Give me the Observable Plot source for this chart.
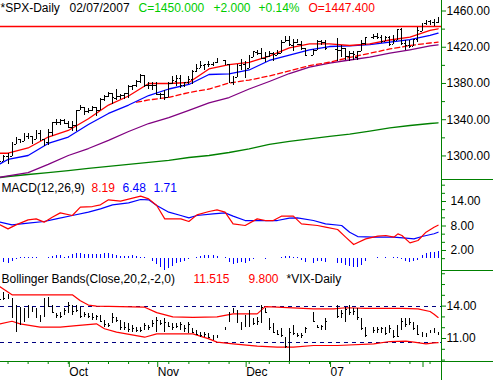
<!DOCTYPE html>
<html><head><meta charset="utf-8">
<script src="https://cdn.jsdelivr.net/npm/d3@7"></script>
<script src="https://cdn.jsdelivr.net/npm/@observablehq/plot@0.6"></script>
<style>
body{margin:0;background:#fff;}
#chart{position:relative;width:493px;height:380px;overflow:hidden;background:#fff;}
#chart svg{position:absolute;left:0;}
</style></head><body><div id="chart"></div>
<script>
// ---------- DATA ----------
const dates = ["2006-09-07","2006-09-08","2006-09-11","2006-09-12","2006-09-13","2006-09-14","2006-09-15","2006-09-18","2006-09-19","2006-09-20","2006-09-21","2006-09-22","2006-09-25","2006-09-26","2006-09-27","2006-09-28","2006-09-29","2006-10-02","2006-10-03","2006-10-04","2006-10-05","2006-10-06","2006-10-09","2006-10-10","2006-10-11","2006-10-12","2006-10-13","2006-10-16","2006-10-17","2006-10-18","2006-10-19","2006-10-20","2006-10-23","2006-10-24","2006-10-25","2006-10-26","2006-10-27","2006-10-30","2006-10-31","2006-11-01","2006-11-02","2006-11-03","2006-11-06","2006-11-07","2006-11-08","2006-11-09","2006-11-10","2006-11-13","2006-11-14","2006-11-15","2006-11-16","2006-11-17","2006-11-20","2006-11-21","2006-11-22","2006-11-24","2006-11-27","2006-11-28","2006-11-29","2006-11-30","2006-12-01","2006-12-04","2006-12-05","2006-12-06","2006-12-07","2006-12-08","2006-12-11","2006-12-12","2006-12-13","2006-12-14","2006-12-15","2006-12-18","2006-12-19","2006-12-20","2006-12-21","2006-12-22","2006-12-26","2006-12-27","2006-12-28","2006-12-29","2007-01-03","2007-01-04","2007-01-05","2007-01-08","2007-01-09","2007-01-10","2007-01-11","2007-01-12","2007-01-16","2007-01-17","2007-01-18","2007-01-19","2007-01-22","2007-01-23","2007-01-24","2007-01-25","2007-01-26","2007-01-29","2007-01-30","2007-01-31","2007-02-01","2007-02-02","2007-02-05","2007-02-06","2007-02-07"];
const spxOpen = [1300.2,1294.0,1298.9,1299.5,1313.0,1318.0,1316.3,1321.2,1321.2,1318.3,1324.9,1318.0,1314.8,1326.4,1336.4,1336.6,1339.2,1335.8,1331.3,1333.8,1349.8,1353.2,1349.6,1350.6,1353.3,1349.9,1362.8,1365.6,1369.1,1363.9,1365.9,1366.9,1368.6,1377.0,1377.4,1382.2,1388.9,1377.9,1377.9,1377.8,1367.4,1367.3,1364.3,1379.8,1382.5,1385.4,1378.3,1380.6,1384.4,1392.9,1396.6,1399.8,1401.2,1400.4,1402.7,1405.9,1400.9,1381.6,1386.1,1399.5,1400.6,1396.7,1409.1,1414.4,1412.9,1407.3,1409.8,1413.0,1411.3,1413.2,1425.5,1427.1,1422.4,1425.5,1423.2,1418.1,1410.8,1416.6,1426.8,1424.7,1418.0,1416.6,1418.3,1409.3,1412.8,1408.7,1414.8,1423.8,1430.7,1431.8,1430.6,1426.4,1430.5,1423.0,1427.9,1440.1,1424.0,1422.0,1420.6,1428.7,1437.9,1445.9,1448.3,1447.0,1447.4];
const spxHigh = [1301.0,1300.1,1302.4,1314.3,1319.9,1318.0,1324.7,1324.9,1322.0,1328.5,1328.2,1318.0,1329.4,1336.6,1340.1,1340.3,1339.9,1338.5,1338.3,1350.2,1355.4,1353.2,1352.7,1354.2,1353.9,1363.8,1366.6,1370.2,1369.1,1372.9,1368.1,1368.7,1377.4,1377.8,1383.6,1389.5,1388.9,1381.2,1381.2,1381.0,1368.4,1371.7,1381.4,1388.2,1388.6,1388.9,1381.0,1387.6,1394.5,1401.4,1403.8,1401.2,1404.4,1403.5,1407.9,1405.9,1400.9,1387.6,1401.1,1406.3,1403.8,1411.2,1415.3,1415.9,1418.3,1414.1,1415.6,1413.8,1416.6,1427.2,1431.6,1431.8,1428.3,1429.0,1426.4,1418.8,1417.9,1427.7,1427.3,1427.0,1429.4,1421.8,1418.3,1414.9,1415.6,1415.0,1427.1,1431.2,1433.9,1435.3,1432.9,1431.6,1431.4,1432.9,1440.1,1440.7,1427.1,1426.9,1428.8,1441.6,1446.6,1449.3,1449.4,1450.2,1453.0];
const spxLow = [1292.1,1294.0,1290.9,1299.5,1312.6,1313.3,1316.3,1318.2,1312.1,1318.3,1315.5,1310.9,1311.6,1321.9,1333.5,1333.8,1335.6,1330.3,1327.1,1327.5,1349.8,1344.9,1346.7,1348.6,1343.2,1349.9,1360.5,1364.5,1356.9,1360.9,1362.1,1362.1,1363.9,1372.4,1376.0,1379.5,1375.9,1373.5,1372.2,1366.7,1362.2,1360.9,1364.3,1379.2,1376.5,1374.7,1375.6,1378.8,1379.1,1392.1,1396.6,1394.6,1397.9,1399.0,1402.3,1399.3,1381.4,1377.8,1386.1,1393.8,1385.9,1396.7,1408.8,1411.1,1406.8,1403.7,1408.6,1404.8,1411.1,1413.0,1425.5,1420.7,1414.9,1423.8,1415.9,1410.3,1410.4,1416.6,1422.1,1416.8,1403.9,1408.4,1405.8,1403.9,1405.4,1405.3,1414.8,1422.1,1428.6,1428.6,1424.2,1425.8,1420.4,1422.9,1427.9,1422.3,1416.9,1418.5,1420.6,1424.8,1437.9,1443.6,1443.8,1443.4,1446.4];
const spxClose = [1294.0,1298.9,1299.5,1313.0,1318.1,1316.3,1321.2,1321.2,1317.6,1325.2,1318.0,1314.8,1326.4,1336.4,1336.6,1338.9,1335.9,1331.3,1334.1,1350.2,1353.2,1349.6,1350.7,1353.4,1349.9,1362.8,1365.6,1369.1,1364.1,1365.8,1366.9,1368.6,1377.0,1377.4,1382.2,1389.1,1377.3,1377.9,1377.9,1367.8,1367.3,1364.3,1379.8,1382.8,1385.7,1378.3,1380.9,1384.4,1393.2,1396.6,1399.8,1401.2,1400.5,1402.8,1406.1,1400.9,1381.4,1386.7,1399.5,1400.6,1396.7,1409.1,1414.8,1412.9,1407.3,1409.8,1413.0,1411.6,1413.5,1425.5,1427.1,1422.5,1425.6,1423.5,1418.3,1410.8,1416.9,1426.8,1424.7,1418.3,1416.6,1418.3,1409.7,1412.8,1412.1,1414.9,1423.8,1430.7,1431.9,1430.6,1426.4,1430.5,1422.9,1427.9,1440.1,1423.9,1422.2,1420.6,1428.8,1438.2,1445.9,1448.4,1447.0,1448.0,1450.0];

// moving averages
const maDates = ["2006-09-07","2006-09-11","2006-09-18","2006-09-25","2006-10-02","2006-10-09","2006-10-16","2006-10-23","2006-10-30","2006-11-06","2006-11-13","2006-11-20","2006-11-27","2006-12-04","2006-12-11","2006-12-18","2006-12-25","2007-01-01","2007-01-08","2007-01-15","2007-01-22","2007-01-29","2007-02-05","2007-02-07"];
const maRed    = [1303.0,1303.0,1308.8,1320.9,1328.1,1341.1,1356.2,1366.2,1380.0,1380.0,1381.1,1396.0,1400.9,1403.2,1410.3,1419.2,1423.8,1423.8,1421.9,1423.8,1428.0,1431.1,1438.5,1440.4];
const maBlue   = [1291.3,1296.1,1300.5,1313.8,1320.9,1334.7,1346.9,1356.2,1366.7,1373.9,1378.9,1389.9,1390.7,1394.9,1405.4,1411.4,1417.2,1420.8,1421.4,1423.0,1425.6,1428.5,1433.0,1435.5];
const maPurple = [1276.5,1277.9,1281.7,1290.6,1300.5,1308.2,1317.1,1327.0,1335.8,1342.4,1350.2,1358.5,1364.5,1373.9,1382.2,1391.0,1398.0,1402.4,1405.9,1409.0,1413.4,1417.2,1421.4,1422.7];
const maGreen  = [1276.2,1277.3,1279.5,1281.7,1283.9,1286.2,1288.4,1290.6,1292.8,1295.0,1298.3,1300.5,1303.8,1307.7,1312.7,1316.0,1318.9,1321.5,1324.2,1327.5,1330.9,1333.6,1335.8,1336.6];
const dashDates = ["2006-10-25","2006-10-30","2006-11-06","2006-11-13","2006-11-20","2006-11-27","2006-12-04","2006-12-11","2006-12-18","2006-12-25","2007-01-01","2007-01-08","2007-01-15","2007-01-22","2007-01-29","2007-02-05","2007-02-07"];
const maRedDashed = [1359.3,1361.8,1364.7,1370.0,1373.9,1380.5,1383.8,1388.3,1393.8,1399.8,1403.5,1408.7,1413.3,1418.1,1421.9,1424.7,1425.6];
const resistance = 1443;

// MACD
const macdDates = ["2006-09-07","2006-09-11","2006-09-13","2006-09-18","2006-09-20","2006-09-22","2006-09-26","2006-09-28","2006-10-03","2006-10-05","2006-10-10","2006-10-12","2006-10-16","2006-10-19","2006-10-24","2006-10-26","2006-10-30","2006-11-01","2006-11-03","2006-11-07","2006-11-09","2006-11-13","2006-11-15","2006-11-20","2006-11-22","2006-11-24","2006-11-28","2006-12-01","2006-12-06","2006-12-08","2006-12-12","2006-12-14","2006-12-19","2006-12-21","2006-12-27","2006-12-29","2007-01-03","2007-01-05","2007-01-09","2007-01-12","2007-01-17","2007-01-19","2007-01-23","2007-01-24","2007-01-25","2007-01-29","2007-01-31","2007-02-02","2007-02-06","2007-02-07"];
const macdLine = [8.28,7.30,8.28,9.51,9.75,8.94,10.16,11.22,10.57,12.61,12.77,13.18,14.41,14.08,14.82,15.31,14.65,13.02,9.75,9.75,9.75,9.10,10.73,11.55,11.96,11.39,8.53,8.12,9.75,9.34,9.34,10.41,10.41,8.53,8.12,7.71,7.14,5.26,3.46,4.85,5.50,5.67,5.26,6.07,5.67,3.87,4.44,6.48,7.70,8.19];
const signalDates = ["2006-09-07","2006-09-12","2006-09-18","2006-09-22","2006-09-27","2006-10-03","2006-10-09","2006-10-12","2006-10-17","2006-10-23","2006-10-26","2006-10-30","2006-11-01","2006-11-06","2006-11-09","2006-11-13","2006-11-15","2006-11-21","2006-11-24","2006-11-28","2006-12-01","2006-12-06","2006-12-11","2006-12-13","2006-12-18","2006-12-20","2006-12-26","2006-12-29","2007-01-04","2007-01-08","2007-01-10","2007-01-16","2007-01-19","2007-01-23","2007-01-26","2007-01-30","2007-02-01","2007-02-06","2007-02-07"];
const signalLine = [8.94,8.28,8.69,9.10,9.75,10.57,11.39,12.20,13.18,13.67,14.49,14.41,13.02,11.39,10.57,10.00,10.57,10.98,11.22,10.41,9.34,9.34,9.34,9.34,9.92,10.00,9.34,8.53,8.12,6.48,5.42,5.26,5.26,5.26,5.01,4.85,5.42,6.10,6.48];
const macdHist = [-0.6,-0.9,-1.1,-0.7,-0.2,0.2,0.3,0.2,0.3,0.2,0.1,0.1,0.3,0.6,0.8,0.7,0.4,0.6,0.9,1.2,1.3,1.1,0.9,1.0,0.9,1.1,1.3,1.2,1.0,0.8,0.6,0.5,0.6,0.7,0.6,0.4,0.2,0.0,-0.6,-1.4,-2.2,-2.8,-2.4,-1.8,-1.3,-0.9,-0.6,-0.3,0.1,0.4,0.6,0.7,0.8,0.7,0.6,0.2,-0.9,-1.5,-1.1,-1.0,-1.2,-0.6,-0.2,0.1,0.1,-0.1,0.0,0.0,0.1,0.3,0.5,0.5,0.4,0.2,-0.4,-1.0,-1.1,-0.6,-0.7,-0.9,-1.2,-1.3,-1.6,-1.8,-2.1,-2.2,-1.6,-0.8,0.1,0.2,0.1,0.3,0.1,0.2,0.4,-0.3,-0.8,-1.0,-0.7,-0.4,0.7,1.2,1.5,1.6,1.71];

// VIX with Bollinger Bands
const vixHigh = [15.75,15.3,15.1,14.7,14.1,13.9,13.75,14.06,13.9,13.75,13.13,14.67,14.83,14.06,13.28,13.44,13.75,14.36,14.06,14.06,13.9,13.44,13.28,13.28,13.13,13.13,12.67,12.36,13.28,12.98,12.67,12.51,12.36,12.2,12.05,12.05,12.36,12.2,12.67,12.98,12.67,12.82,12.51,12.36,12.36,12.51,12.2,12.51,11.9,11.74,11.59,11.59,11.44,11.28,11.28,12.05,13.44,13.75,13.59,12.51,13.13,13.59,12.82,12.98,14.06,13.75,12.82,12.36,11.74,11.9,11.12,11.9,12.2,11.44,11.44,12.05,13.44,12.2,12.2,12.82,14.06,13.59,13.9,14.06,13.75,13.75,12.82,12.05,12.05,12.05,12.05,12.05,12.2,11.74,12.2,12.82,12.82,12.82,12.51,12.2,11.59,11.44,11.74,11.9,11.59];
const vixLow = [14.5,14.5,14.6,12.82,11.59,12.2,12.5,12.82,13.44,12.82,12.51,12.98,13.9,13.28,12.82,12.82,13.13,13.28,13.13,13.44,12.82,12.98,12.82,12.67,12.67,12.51,12.05,12.05,12.36,12.51,11.74,11.74,11.59,11.59,11.59,11.59,11.74,11.74,12.05,11.59,12.2,11.59,12.05,11.74,11.9,11.74,11.59,11.44,11.44,11.28,11.12,11.12,10.97,10.81,10.97,11.74,12.51,13.28,12.36,11.74,12.05,12.05,12.2,12.2,12.36,13.28,11.74,11.44,11.28,11.12,10.04,8.81,11.28,11.12,10.97,11.44,12.51,11.9,11.74,11.74,12.82,12.82,12.51,13.13,13.13,12.67,11.74,11.12,11.44,11.44,11.44,11.28,11.44,10.97,11.12,11.74,12.05,12.2,11.74,11.28,11.12,11.12,11.44,11.44,11.28];
const vixClose = [14.6,14.7,14.8,13.0,12.2,13.4,13.1,13.5,13.6,13.0,12.9,14.2,14.0,13.4,13.1,13.0,13.6,14.1,13.5,13.6,13.0,13.2,13.0,12.9,13.0,12.6,12.3,12.2,12.9,12.7,12.0,12.0,11.8,11.9,11.7,11.7,12.2,12.0,12.4,12.7,12.4,12.5,12.1,12.0,12.1,12.3,11.9,12.3,11.6,11.4,11.3,11.4,11.1,11.0,11.1,11.9,13.3,13.4,12.5,12.0,12.8,12.3,12.4,12.6,13.9,13.4,12.0,11.6,11.4,11.3,10.3,11.6,11.5,11.3,11.3,11.9,12.6,12.0,12.1,12.6,13.0,13.3,13.7,13.4,13.5,12.9,11.9,11.3,11.7,11.8,11.9,11.5,11.9,11.2,11.2,12.6,12.3,12.5,11.9,11.4,11.3,11.2,11.6,11.7,11.4];
const bbUpperDates = ["2006-09-07","2006-09-12","2006-09-21","2006-10-03","2006-10-05","2006-10-09","2006-10-11","2006-10-27","2006-11-01","2006-11-07","2006-11-14","2006-11-22","2006-11-28","2006-12-06","2006-12-08","2006-12-13","2006-12-26","2007-01-02","2007-01-05","2007-01-12","2007-01-25","2007-01-31","2007-02-05","2007-02-06","2007-02-07"];
const bbUpper = [15.8,15.05,15.05,15.05,14.5,14.1,14.0,13.9,13.4,13.0,12.95,13.0,13.28,13.28,13.95,13.9,13.75,13.75,13.85,13.8,13.8,13.75,13.5,13.25,12.95];
const bbLowerDates = ["2006-09-07","2006-09-12","2006-09-14","2006-09-21","2006-09-28","2006-10-04","2006-10-11","2006-10-13","2006-10-18","2006-10-27","2006-11-01","2006-11-14","2006-11-20","2006-11-22","2006-11-28","2006-12-06","2006-12-13","2006-12-19","2006-12-26","2007-01-03","2007-01-16","2007-01-22","2007-01-26","2007-01-30","2007-02-02","2007-02-06","2007-02-07"];
const bbLower = [12.36,12.6,12.36,12.05,12.05,12.2,12.36,11.9,11.59,11.12,11.43,11.43,10.97,10.66,10.5,10.3,10.2,10.2,10.35,10.35,10.5,10.72,10.75,10.66,10.5,10.6,10.62];
const vixLevels = [14.0, 10.6];

// axis ticks and labels
const priceTicks = [1300,1340,1380,1420,1460];
const priceMinor = [1320,1360,1400,1440];
const macdTicks = [2,8,14];
const macdMinor = [0,4,6,10,12,16,18];
const vixTicks = [11,14];
const vixMinor = [9,10,12,13,15,16,17];
const monthTickDates = ["2006-10-02","2006-11-01","2006-12-01","2007-01-01","2007-02-01"];
const monthLabels = ["Oct","Nov","Dec","07",""];

// ---------- LAYOUT ----------
const W = 493, AXW = 52;
const K0 = 3.13, K1 = 112.85;               // weekday-slot domain of the plotting area
const KEND = K1 + AXW * (K1 - K0) / (W - AXW);
const G = "#008000", R = "#ff0000", B = "#0000ff", P = "#800080", LG = "#00cc00";
const FONT = "'Liberation Sans', Arial, sans-serif";
const CRISP = {shapeRendering: "crispEdges"};

const base = Date.UTC(2006, 8, 4); // a Monday
function wk(s) {
  const t = Date.UTC(+s.slice(0,4), +s.slice(5,7) - 1, +s.slice(8,10));
  const days = Math.round((t - base) / 864e5);
  return Math.floor(days / 7) * 5 + (days % 7);
}
const series = (ds, vs) => ds.map((d, i) => ({k: wk(d), v: vs[i]}));

const bars = dates.map((d, i) => ({k: wk(d), o: spxOpen[i], h: spxHigh[i], l: spxLow[i], c: spxClose[i]}));
const vbars = dates.map((d, i) => ({k: wk(d), h: vixHigh[i], l: vixLow[i], c: vixClose[i]}));
const hist = dates.map((d, i) => ({k: wk(d), v: macdHist[i]}));
const weekTicks = d3.utcMonday.range(new Date(Date.UTC(2006,8,5)), new Date(Date.UTC(2007,1,8))).map(d => wk(d.toISOString().slice(0,10)));
const monthKs = monthTickDates.map(wk);
const monthMap = new Map(monthKs.map((k, i) => [k, monthLabels[i]]));

const style = {fontFamily: FONT, fontSize: "12px", background: "transparent", color: "black"};
const hdr = (txt, dx, dy, fill) => Plot.text([txt], {frameAnchor: "top-left", text: d => d, dx, dy, textAnchor: "start", lineAnchor: "middle", fill, fontSize: 12, fontFamily: FONT});
const fmt = d => d.toFixed(2);
const chart = document.getElementById("chart");
function place(svg, top) { svg.style.top = top + "px"; chart.appendChild(svg); }

// ---------- PRICE PANEL ----------
const PY = [1274.0, 1471.6];
place(Plot.plot({
  width: W, height: 179, marginTop: 0, marginBottom: 0, marginLeft: 0, marginRight: AXW,
  x: {type: "linear", domain: [K0, K1], axis: null},
  y: {domain: PY},
  style,
  marks: [
    Plot.ruleY([resistance], {x1: K0, x2: K1, stroke: R, strokeWidth: 1.5}),
    Plot.line(series(maDates, maGreen), {x: "k", y: "v", stroke: G, strokeWidth: 1.3}),
    Plot.line(series(maDates, maPurple), {x: "k", y: "v", stroke: P, strokeWidth: 1.3}),
    Plot.line(series(dashDates, maRedDashed), {x: "k", y: "v", stroke: R, strokeWidth: 1.3, strokeDasharray: "5,3"}),
    Plot.line(series(maDates, maBlue), {x: "k", y: "v", stroke: B, strokeWidth: 1.3}),
    Plot.line(series(maDates, maRed), {x: "k", y: "v", stroke: R, strokeWidth: 1.3}),
    Plot.ruleX(bars, {x: "k", y1: "l", y2: "h", stroke: "black", ...CRISP}),
    Plot.ruleY(bars, {y: "o", x1: d => d.k - 0.45, x2: d => d.k, stroke: "black", ...CRISP}),
    Plot.ruleY(bars, {y: "c", x1: d => d.k, x2: d => d.k + 0.45, stroke: "black", ...CRISP}),
    Plot.ruleX([K1], {stroke: G, ...CRISP}),
    Plot.axisY(priceTicks, {anchor: "right", tickSize: 4, tickPadding: 1, tickFormat: fmt, stroke: G, fill: "black", fontSize: 12, label: null}),
    Plot.axisY(priceMinor, {anchor: "right", tickSize: 3, tickFormat: () => "", stroke: G, label: null}),
    hdr("*SPX-Daily", 0, 7.3, "black"),
    hdr("02/07/2007", 69, 7.3, "black"),
    hdr("C=1450.000", 138, 7.3, LG),
    hdr("+2.000", 213, 7.3, LG),
    hdr("+0.14%", 258, 7.3, LG),
    hdr("O=1447.400", 308, 7.3, R)
  ]
}), 0);

// ---------- MACD PANEL ----------
const MY = [-2.9, 19.39];
place(Plot.plot({
  width: W, height: 91, marginTop: 0, marginBottom: 0, marginLeft: 0, marginRight: AXW,
  x: {type: "linear", domain: [K0, K1], axis: null},
  y: {domain: MY},
  style,
  marks: [
    Plot.ruleX(hist, {x: "k", y1: 0, y2: "v", stroke: B, ...CRISP}),
    Plot.line(series(signalDates, signalLine), {x: "k", y: "v", stroke: B, strokeWidth: 1.2}),
    Plot.line(series(macdDates, macdLine), {x: "k", y: "v", stroke: R, strokeWidth: 1.2}),
    Plot.ruleX([K1], {stroke: G, ...CRISP}),
    Plot.ruleY([MY[1]], {x1: K1, x2: KEND, stroke: G, ...CRISP}),
    Plot.axisY(macdTicks, {anchor: "right", tickSize: 4, tickPadding: 5, tickFormat: fmt, stroke: G, fill: "black", fontSize: 12, label: null}),
    Plot.axisY(macdMinor, {anchor: "right", tickSize: 3, tickFormat: () => "", stroke: G, label: null}),
    hdr("MACD(12,26,9)", 1, 9, "black"),
    hdr("8.19", 91, 9, R),
    hdr("6.48", 122, 9, B),
    hdr("1.71", 153, 9, B)
  ]
}), 179);

// ---------- VIX / BOLLINGER PANEL ----------
const VY = [8.87, 17.3];
place(Plot.plot({
  width: W, height: 110, marginTop: 0, marginBottom: 19, marginLeft: 0, marginRight: AXW,
  x: {type: "linear", domain: [K0, K1]},
  y: {domain: VY},
  style,
  marks: [
    Plot.ruleY(vixLevels, {x1: K0, x2: K1, stroke: "#000080", strokeDasharray: "4,4", ...CRISP}),
    Plot.line(series(bbUpperDates, bbUpper), {x: "k", y: "v", stroke: R, strokeWidth: 1.2}),
    Plot.line(series(bbLowerDates, bbLower), {x: "k", y: "v", stroke: R, strokeWidth: 1.2}),
    Plot.ruleX(vbars, {x: "k", y1: "l", y2: "h", stroke: "black", ...CRISP}),
    Plot.ruleY(vbars, {y: "c", x1: d => d.k, x2: d => d.k + 0.45, stroke: "black", ...CRISP}),
    Plot.ruleX([K1], {y1: VY[1], y2: 6.5, stroke: G, ...CRISP}),
    Plot.ruleY([VY[1]], {x1: K1, x2: KEND, stroke: G, ...CRISP}),
    Plot.ruleY([VY[0]], {x1: K0 - 1, x2: KEND, stroke: G, ...CRISP}),
    Plot.axisY(vixTicks, {anchor: "right", tickSize: 4, tickPadding: 1, tickFormat: fmt, stroke: G, fill: "black", fontSize: 12, label: null}),
    Plot.axisY(vixMinor, {anchor: "right", tickSize: 3, tickFormat: () => "", stroke: G, label: null}),
    Plot.axisX(weekTicks, {anchor: "bottom", tickSize: 3, tickFormat: () => "", stroke: G, label: null}),
    Plot.axisX(monthKs, {anchor: "bottom", tickSize: 6, tickPadding: 0, tickFormat: k => monthMap.get(k), textAnchor: "start", dx: 1, stroke: G, fill: "black", fontSize: 12, label: null}),
    hdr("Bollinger Bands(Close,20,2,-2,0)", 1, 8.7, "black"),
    hdr("11.515", 193, 8.7, R),
    hdr("9.800", 248, 8.7, R),
    hdr("*VIX-Daily", 286, 8.7, "black")
  ]
}), 270);
</script></body></html>
